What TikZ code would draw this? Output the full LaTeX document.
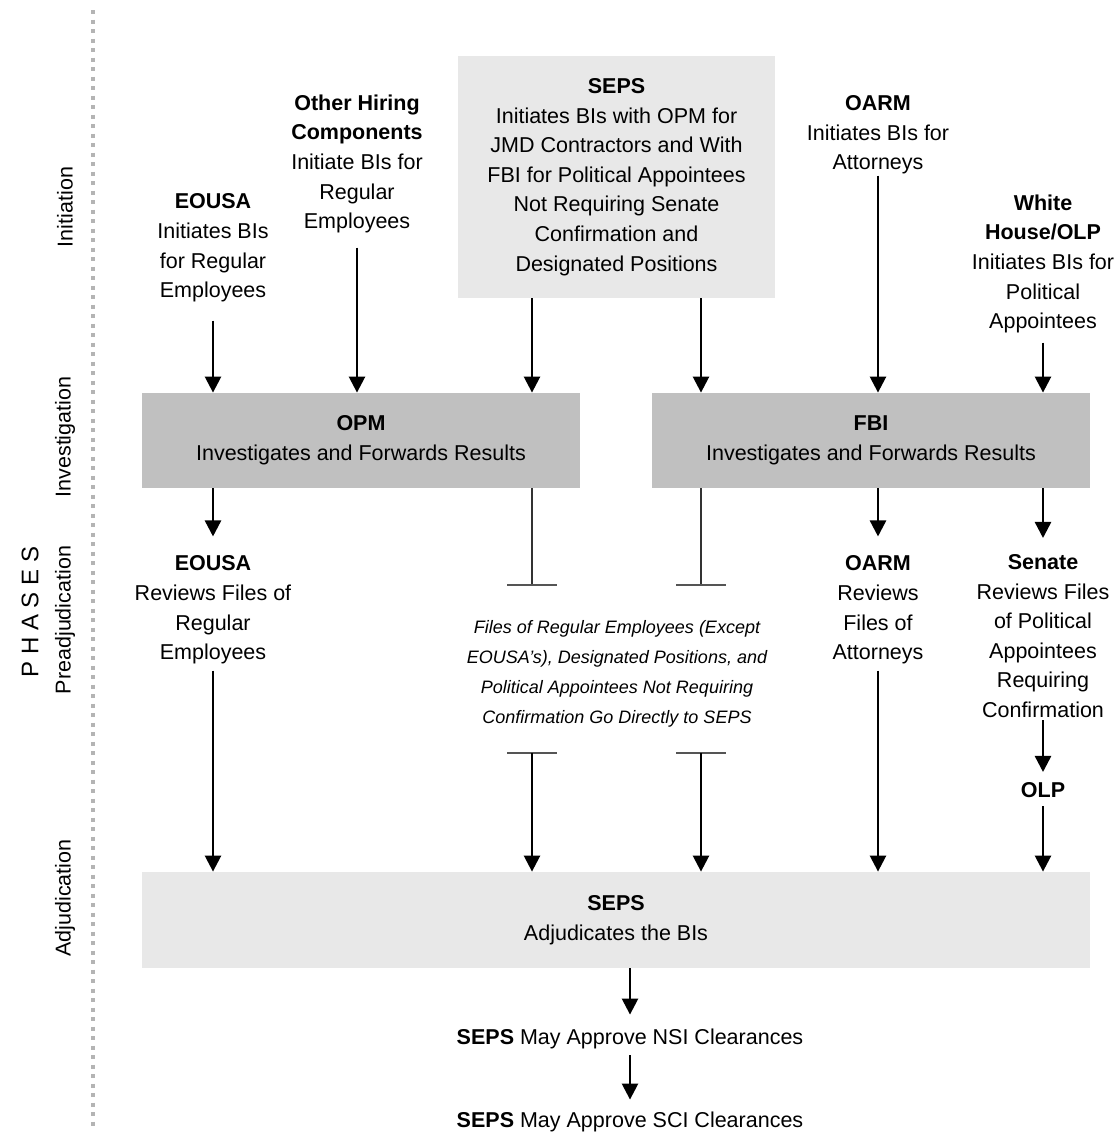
\documentclass[tikz,border=0pt]{standalone}
\usepackage{fontspec}
\setmainfont{Liberation Sans}
\usetikzlibrary{arrows.meta}
\definecolor{boxlight}{HTML}{E8E8E8}
\definecolor{boxdark}{HTML}{C0C0C0}
\definecolor{dotgray}{HTML}{B4B4B4}
\definecolor{bargray}{HTML}{555555}
\begin{document}
\begin{tikzpicture}[x=0.5pt,y=-0.5pt,
    txt/.style={align=center,inner sep=0pt,font=\fontsize{10.75}{14.8}\selectfont},
    note/.style={align=center,inner sep=0pt,font=\fontsize{9}{15.1}\selectfont\itshape},
    phase/.style={inner sep=0pt,rotate=90,font=\fontsize{10.75}{13}\selectfont},
    lbox/.style={txt,fill=boxlight},
    dbox/.style={txt,fill=boxdark,minimum width=219pt,minimum height=47.5pt},
    arr/.style={-{Triangle[width=8pt,length=8pt]},line width=1.25pt},
    thin/.style={line width=0.6pt,black!80},
    tbar/.style={line width=1pt,bargray}]
\useasboundingbox (0,0) rectangle (1119,1135);

% phases
\draw[dotgray,line width=2pt,dash pattern=on 2pt off 2.75pt] (93,10) -- (93,1130);
\node[phase,font=\fontsize{12}{14}\selectfont] (phases) at (30,612) {P H A S E S};
\node[phase] (init)  at (65,207) {Initiation};
\node[phase] (invst) at (65,437) {Investigation};
\node[phase] (preadj) at (65,620) {Preadjudication};
\node[phase] (adj)   at (65,898) {Adjudication};

% initiation
\node[txt] (eousaI) at (213,248) {\textbf{EOUSA}\\Initiates BIs\\for Regular\\Employees};
\node[txt] (otherI) at (357,164) {\textbf{Other Hiring}\\\textbf{Components}\\Initiate BIs for\\Regular\\Employees};
\node[lbox,minimum width=158.5pt,minimum height=121pt] (sepsI) at (616.5,177) {\textbf{SEPS}\\Initiates BIs with OPM for\\JMD Contractors and With\\FBI for Political Appointees\\Not Requiring Senate\\Confirmation and\\Designated Positions};
\node[txt] (oarmI) at (878,135) {\textbf{OARM}\\Initiates BIs for\\Attorneys};
\node[txt] (whI) at (1043,264) {\textbf{White}\\\textbf{House/OLP}\\Initiates BIs for\\Political\\Appointees};

% investigation
\node[dbox] (opm) at (361,440.5) {\textbf{OPM}\\Investigates and Forwards Results};
\node[dbox] (fbi) at (871,440.5) {\textbf{FBI}\\Investigates and Forwards Results};

% preadjudication
\node[txt] (eousaR) at (213,610) {\textbf{EOUSA}\\Reviews Files of\\Regular\\Employees};
\node[note] (direct) at (617,674) {Files of Regular Employees (Except\\EOUSA’s), Designated Positions, and\\Political Appointees Not Requiring\\Confirmation Go Directly to SEPS};
\node[txt] (oarmR) at (878,610) {\textbf{OARM}\\Reviews\\Files of\\Attorneys};
\node[txt] (senateR) at (1043,636) {\textbf{Senate}\\Reviews Files\\of Political\\Appointees\\Requiring\\Confirmation};
\node[txt] (olp) at (1043,790) {\textbf{OLP}};

% adjudication
\node[lbox,minimum width=474pt,minimum height=48pt] (sepsA) at (616,920) {\textbf{SEPS}\\Adjudicates the BIs};
\node[txt] (nsi) at (630,1039) {\textbf{SEPS} May Approve NSI Clearances};
\node[txt] (sci) at (630,1122) {\textbf{SEPS} May Approve SCI Clearances};

\coordinate (barLa) at (532,585);
\coordinate (barRa) at (701,585);
\coordinate (barLb) at (532,753);
\coordinate (barRb) at (701,753);

% arrows into the investigation boxes
\draw[arr,shorten <=9pt] (eousaI.south) -- (eousaI.south |- opm.north);
\draw[arr,shorten <=7pt] (otherI.south) -- (otherI.south |- opm.north);
\draw[arr] (sepsI.south -| barLa) -- (opm.north -| barLa);
\draw[arr] (sepsI.south -| barRa) -- (fbi.north -| barRa);
\draw[arr,shorten <=0.5pt] (oarmI.south) -- (oarmI.south |- fbi.north);
\draw[arr,shorten <=4.5pt] (whI.south) -- (whI.south |- fbi.north);

% results
\draw[arr,shorten >=9.5pt] (opm.south -| eousaR.north) -- (eousaR.north);
\draw[arr,shorten >=9.5pt] (fbi.south -| oarmR.north) -- (oarmR.north);
\draw[arr,shorten >=8pt] (fbi.south -| senateR.north) -- (senateR.north);
\draw[thin] (opm.south -| barLa) -- (barLa);
\draw[thin] (fbi.south -| barRa) -- (barRa);
\draw[tbar] ([xshift=-12.5pt]barLa) -- ([xshift=12.5pt]barLa);
\draw[tbar] ([xshift=-12.5pt]barRa) -- ([xshift=12.5pt]barRa);
\draw[tbar] ([xshift=-12.5pt]barLb) -- ([xshift=12.5pt]barLb);
\draw[tbar] ([xshift=-12.5pt]barRb) -- ([xshift=12.5pt]barRb);

% into adjudication
\draw[arr,shorten <=3pt] (eousaR.south) -- (eousaR.south |- sepsA.north);
\draw[arr] (barLb) -- (barLb |- sepsA.north);
\draw[arr] (barRb) -- (barRb |- sepsA.north);
\draw[arr,shorten <=3pt] (oarmR.south) -- (oarmR.south |- sepsA.north);
\draw[arr,shorten <=1pt,shorten >=5pt] (senateR.south) -- (olp.north);
\draw[arr,shorten <=4pt] (olp.south) -- (olp.south |- sepsA.north);

% clearances
\draw[arr,shorten >=7pt] (sepsA.south -| nsi.north) -- (nsi.north);
\draw[arr,shorten <=3pt,shorten >=6pt] (nsi.south) -- (sci.north);
\end{tikzpicture}
\end{document}
